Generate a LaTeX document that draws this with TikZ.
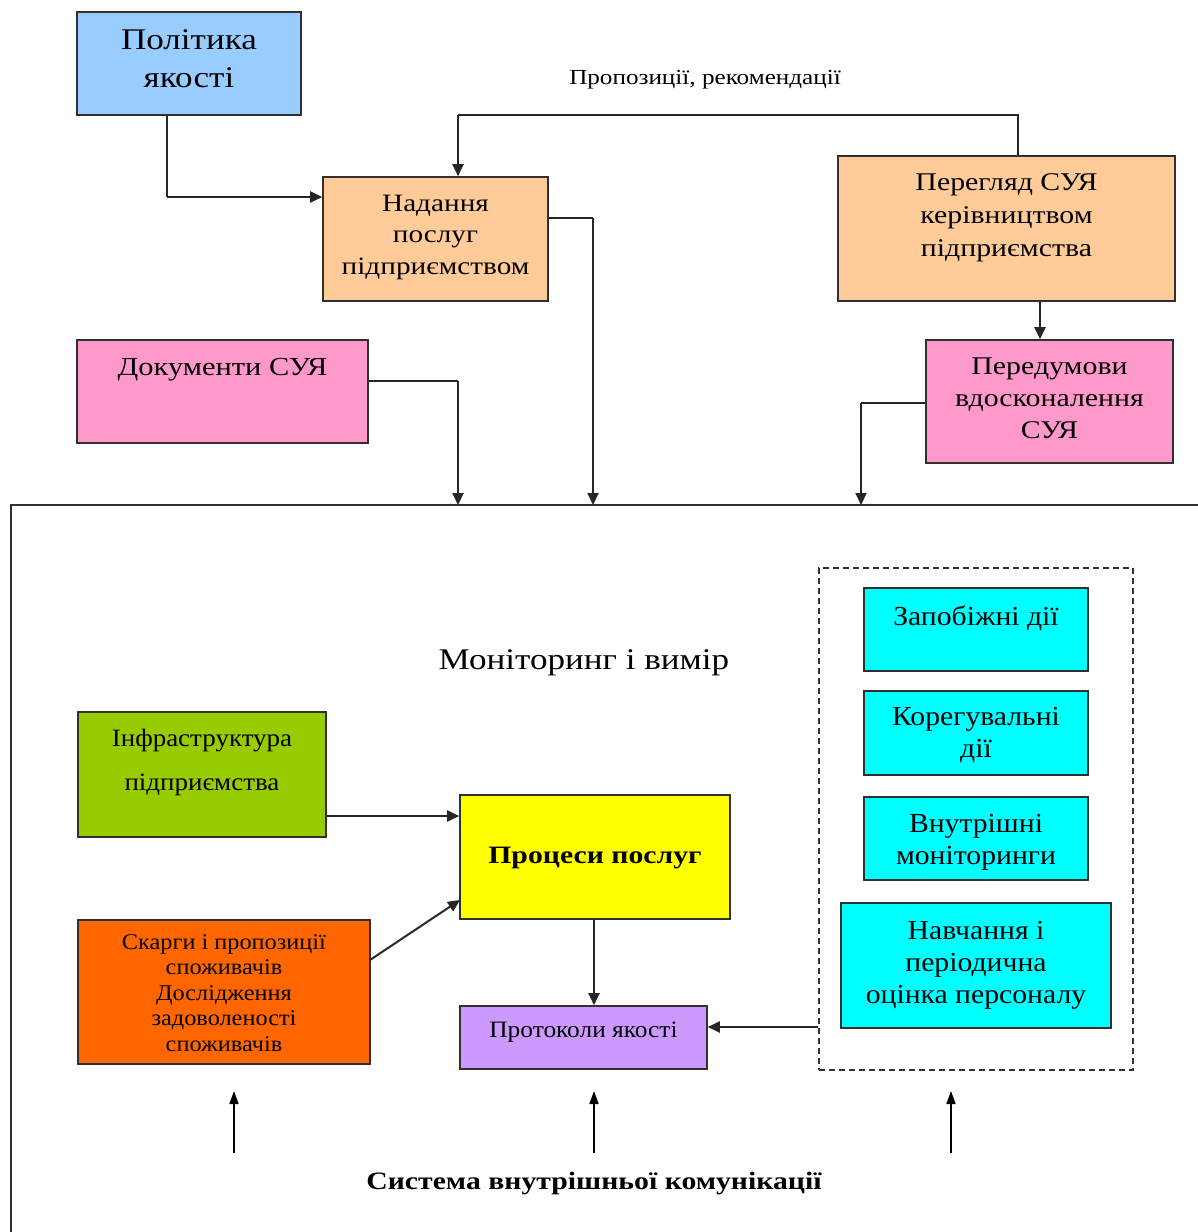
\documentclass[tikz,border=0pt]{standalone}
\usepackage{fontspec}
\setmainfont{Liberation Serif}
\newfontfamily\wideA[FakeStretch=1.17]{Liberation Serif}
\newfontfamily\wideB[FakeStretch=1.08]{Liberation Serif}
\newfontfamily\wideC[FakeStretch=1.19]{Liberation Serif}
\usetikzlibrary{arrows.meta}
\definecolor{cblue}{HTML}{99CCFF}
\definecolor{cpeach}{HTML}{FFCC99}
\definecolor{cpink}{HTML}{FF99CC}
\definecolor{cgreen}{HTML}{99CC00}
\definecolor{cyellow}{HTML}{FFFF00}
\definecolor{corange}{HTML}{FF6600}
\definecolor{clav}{HTML}{CC99FF}
\definecolor{ccyan}{HTML}{00FFFF}
\definecolor{cborder}{HTML}{303030}
\tikzset{
  box/.style={draw=cborder, line width=1.6pt, inner sep=0pt},
  txt/.style={align=center, inner sep=0pt, text=black},
  conn/.style={line width=2pt, draw=black!85, -{Triangle[length=12pt,width=11pt]}},
  plain/.style={line width=2pt, draw=black!85},
  upar/.style={line width=1.6pt, draw=black, -{Triangle[length=13pt,width=9pt]}},
}
\begin{document}
\begin{tikzpicture}[x=1pt,y=-1pt]
\useasboundingbox (0,0) rectangle (1198,1232);
\fill[white] (0,0) rectangle (1198,1232);
% big frame (clipped)
\coordinate (frTL) at (11,505);
\coordinate (frTR) at (1198,505);
\coordinate (frBL) at (11,1232);
\draw[line width=1.6pt, draw=cborder] (frBL) -- (frTL) -- (frTR);

% top boxes
\node[box, fill=cblue, minimum width=224pt, minimum height=103pt] (pol) at (189,63.5) {};
\node[txt, font=\wideA\fontsize{30}{38}\selectfont] (polt) at (189,59) {Політика\\якості};

\node[box, fill=cpeach, minimum width=225pt, minimum height=124pt] (nad) at (435.5,239) {};
\node[txt, font=\wideA\fontsize{25}{31.5}\selectfont] (nadt) at (435.5,237) {Надання\\послуг\\підприємством};

\node[box, fill=cpeach, minimum width=337pt, minimum height=145pt] (per) at (1006.5,228.5) {};
\node[txt, font=\wideA\fontsize{25.5}{33}\selectfont] (pert) at (1006.5,218) {Перегляд СУЯ\\керівництвом\\підприємства};

\node[box, fill=cpink, minimum width=291pt, minimum height=103pt] (doc) at (222.5,391.5) {};
\node[txt, font=\wideA\fontsize{26}{32}\selectfont] (doct) at (222.5,370) {Документи СУЯ};

\node[box, fill=cpink, minimum width=247pt, minimum height=123pt] (pred) at (1049.5,401.5) {};
\node[txt, font=\wideA\fontsize{25.5}{32}\selectfont] (predt) at (1049.5,398) {Передумови\\вдосконалення\\СУЯ};

\node[txt, font=\wideA\fontsize{21.5}{25}\selectfont] (prop) at (705,80) {Пропозиції, рекомендації};

% top connectors
\coordinate (c1) at (167,197);
\draw[plain] (pol.south -| c1) -- (c1);
\draw[conn] (c1) -- (c1 -| nad.west);

\coordinate (c2a) at (1018,115);
\coordinate (c2b) at (458,115);
\draw[plain] (per.north -| c2a) -- (c2a) -- (c2b);
\draw[conn] (c2b) -- (c2b |- nad.north);

\coordinate (c3a) at (593,218);
\draw[plain] (c3a -| nad.east) -- (c3a);
\draw[conn] (c3a) -- (c3a |- frTL);

\coordinate (c4a) at (458,381);
\draw[plain] (c4a -| doc.east) -- (c4a);
\draw[conn] (c4a) -- (c4a |- frTL);

\coordinate (c5) at (1040,301);
\draw[conn] (c5 |- per.south) -- (c5 |- pred.north);

\coordinate (c6a) at (861,403);
\draw[plain] (c6a -| pred.west) -- (c6a);
\draw[conn] (c6a) -- (c6a |- frTL);

% inner
\node[txt, font=\wideA\fontsize{30}{34}\selectfont] (mon) at (584,663) {Моніторинг і вимір};

\node[draw=black!80, line width=1.6pt, dash pattern=on 6pt off 4pt, minimum width=314pt, minimum height=502pt, inner sep=0pt] (dash) at (976,819) {};

\node[box, fill=ccyan, minimum width=224pt, minimum height=83pt] (zap) at (976,629.5) {};
\node[txt, font=\wideB\fontsize{27.5}{32}\selectfont] (zapt) at (976,618) {Запобіжні дії};
\node[box, fill=ccyan, minimum width=224pt, minimum height=84pt] (kor) at (976,733) {};
\node[txt, font=\wideB\fontsize{27.5}{32}\selectfont] (kort) at (976,735) {Корегувальні\\дії};
\node[box, fill=ccyan, minimum width=224pt, minimum height=83pt] (vnu) at (976,838.5) {};
\node[txt, font=\wideB\fontsize{27.5}{32}\selectfont] (vnut) at (976,842) {Внутрішні\\моніторинги};
\node[box, fill=ccyan, minimum width=270pt, minimum height=125pt] (nav) at (976,965.5) {};
\node[txt, font=\wideB\fontsize{27.5}{32}\selectfont] (navt) at (976,965) {Навчання і\\періодична\\оцінка персоналу};

\node[box, fill=cgreen, minimum width=248pt, minimum height=125pt] (inf) at (202,774.5) {};
\node[txt, font=\wideB\fontsize{25}{44}\selectfont] (inft) at (202,762) {Інфраструктура\\підприємства};

\node[box, fill=cyellow, minimum width=270pt, minimum height=124pt] (proc) at (595,857) {};
\node[txt, font=\wideC\bfseries\fontsize{25}{30}\selectfont] (proct) at (595,858) {Процеси послуг};

\node[box, fill=corange, minimum width=292pt, minimum height=144pt] (skar) at (224,992) {};
\node[txt, font=\wideB\fontsize{22.5}{25.5}\selectfont] (skart) at (224,993) {Скарги і пропозиції\\споживачів\\Дослідження\\задоволеності\\споживачів};

\node[box, fill=clav, minimum width=247pt, minimum height=63pt] (protk) at (583.5,1037.5) {};
\node[txt, font=\wideB\fontsize{23.5}{28}\selectfont] (protkt) at (583.5,1032) {Протоколи якості};

\coordinate (c7) at (0,816);
\draw[conn] (c7 -| inf.east) -- (c7 -| proc.west);
\coordinate (c8a) at (370,960);
\coordinate (c8b) at (460,900);
\draw[conn] (c8a) -- (c8b);
\coordinate (c9) at (594,0);
\draw[conn] (c9 |- proc.south) -- (c9 |- protk.north);
\coordinate (c10) at (0,1027);
\draw[conn] (c10 -| dash.west) -- (c10 -| protk.east);

% bottom
\coordinate (u1a) at (234,1153);
\coordinate (u1b) at (234,1091);
\coordinate (u2a) at (594,1153);
\coordinate (u2b) at (594,1091);
\coordinate (u3a) at (951,1153);
\coordinate (u3b) at (951,1091);
\draw[upar] (u1a) -- (u1b);
\draw[upar] (u2a) -- (u2b);
\draw[upar] (u3a) -- (u3b);
\node[txt, font=\wideC\bfseries\fontsize{25}{30}\selectfont] (sys) at (594,1184) {Система внутрішньої комунікації};
\end{tikzpicture}
\end{document}
